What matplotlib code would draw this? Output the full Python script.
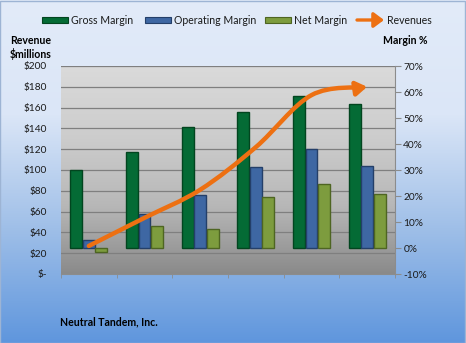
import numpy as np
import matplotlib
matplotlib.use("Agg")
import matplotlib.pyplot as plt
from matplotlib.path import Path
from matplotlib.patches import FancyArrowPatch, Rectangle
from matplotlib.colors import LinearSegmentedColormap
import matplotlib.transforms as mtransforms

plt.rcParams['font.family'] = ['Lato', 'DejaVu Sans']

categories = ["FY 2005", "FY 2006", "FY 2007", "FY 2008", "FY 2009", "TTM 9/2010"]
gross_margin = [30.0, 37.0, 46.4, 52.4, 58.5, 55.3]
operating_margin = [3.0, 13.0, 20.4, 31.3, 38.0, 31.7]
net_margin = [-1.4, 8.5, 7.3, 19.7, 24.5, 20.7]
revenues = [27, 54, 81, 122, 172, 180]

rev_ticks = list(range(0, 201, 20))
rev_labels = ["$-"] + [f"${v}" for v in rev_ticks[1:]]
pct_ticks = list(range(-10, 71, 10))
pct_labels = [f"{v}%" for v in pct_ticks]

W, H = 466, 343
fig = plt.figure(figsize=(W / 100, H / 100), dpi=100)

# Figure background: light-to-blue vertical gradient with thin border
bg = fig.add_axes([0, 0, 1, 1], zorder=-10)
bg_cmap = LinearSegmentedColormap.from_list("bg", ["#e2ebf9", "#dbe6f7", "#9fbfe8", "#5f96dd"])
grad = np.linspace(0, 1, 256).reshape(-1, 1)
bg.imshow(grad, cmap=bg_cmap, aspect="auto", extent=[0, 1, 0, 1], origin="upper")
bg.set_xlim(0, 1); bg.set_ylim(0, 1); bg.axis("off")
bg.add_patch(Rectangle((0.001, 0.001), 0.997, 0.996, fill=False, ec="#9db4d4", lw=1.0,
                       transform=bg.transAxes))

left, right = 61 / W, 395 / W
bottom, top = 1 - 274 / H, 1 - 66 / H
ax = fig.add_axes([left, bottom, right - left, top - bottom])
ax2 = ax.twinx()

# Plot area gradient (light grey to darker grey)
pa_cmap = LinearSegmentedColormap.from_list("pa", ["#dadada", "#cdcdcd", "#b8b8b8", "#8a8a8a"])
ax.imshow(grad, cmap=pa_cmap, aspect="auto", extent=[0, 1, 0, 1], origin="upper",
          transform=ax.transAxes, zorder=0)

x = np.arange(len(categories))
bw = 0.225
ax.set_xlim(-0.5, len(categories) - 0.5)
ax.set_ylim(-10, 70)
ax2.set_ylim(0, 200)

# Horizontal gridlines at revenue ticks, drawn behind bars
trans = mtransforms.blended_transform_factory(ax.transAxes, ax2.transData)
for v in rev_ticks[1:]:
    ax.plot([0, 1], [v, v], transform=trans, color="#7f7f7f", lw=0.9, zorder=1)

colors = {
    "Gross Margin": ("#046b35", "#02451f"),
    "Operating Margin": ("#3e67a3", "#243f69"),
    "Net Margin": ("#7d9c3e", "#4e6522"),
}
series = [
    (gross_margin, "Gross Margin", -bw),
    (operating_margin, "Operating Margin", 0),
    (net_margin, "Net Margin", bw),
]
for vals, lab, off in series:
    fc, ec = colors[lab]
    ax.bar(x + off, vals, width=bw * 0.95, color=fc, edgecolor=ec, linewidth=1.0,
           zorder=3, label=lab)

# Smoothed revenue curve (Catmull-Rom converted to cubic Bezier)
pts = np.column_stack([x, revenues]).astype(float)
verts = [tuple(pts[0])]
codes = [Path.MOVETO]
n = len(pts)
for i in range(n - 1):
    p0 = pts[i - 1] if i > 0 else pts[i]
    p1 = pts[i]
    p2 = pts[i + 1]
    p3 = pts[i + 2] if i + 2 < n else pts[i + 1]
    c1 = p1 + (p2 - p0) / 6.0
    c2 = p2 - (p3 - p1) / 6.0
    verts += [tuple(c1), tuple(c2), tuple(p2)]
    codes += [Path.CURVE4] * 3
rev_path = Path(verts, codes)
arrow = FancyArrowPatch(path=rev_path, arrowstyle="-|>,head_length=4,head_width=2.6",
                        color="#ed7012", lw=3.2, transform=ax2.transData, zorder=5,
                        shrinkA=0, shrinkB=0, mutation_scale=1.6)
ax2.add_patch(arrow)

# Axes styling
for a in (ax, ax2):
    for s in a.spines.values():
        s.set_visible(False)
ax2.spines["right"].set_visible(True)
ax2.spines["right"].set_color("#8c8c8c")
ax2.spines["bottom"].set_visible(True)
ax2.spines["bottom"].set_color("#8c8c8c")

ax.yaxis.tick_right()
ax.set_yticks(pct_ticks)
ax.set_yticklabels(pct_labels, fontsize=7.3, color="#1a1a1a")
ax.tick_params(axis="y", which="both", length=4, color="#8c8c8c", pad=2, direction="out")

ax2.yaxis.tick_left()
ax2.set_yticks(rev_ticks)
ax2.set_yticklabels(rev_labels, fontsize=7.3, color="#1a1a1a")
ax2.tick_params(axis="y", length=0, pad=10)

ax.set_xticks(x)
ax.set_xticklabels(categories, fontsize=7.3, color="#1a1a1a")
ax.tick_params(axis="x", length=0, pad=8)
ax.set_xticks(np.arange(-0.5, len(categories), 1.0), minor=True)
ax.tick_params(axis="x", which="minor", length=3, color="#8c8c8c")
ax2.set_xticks([])

# Legend row
ly = 1 - 20 / H
for lab, x0 in [("Gross Margin", 42), ("Operating Margin", 145), ("Net Margin", 265)]:
    fc, ec = colors[lab]
    fig.add_artist(Rectangle((x0 / W, ly - 2.5 / H), 26 / W, 5 / H, fc=fc, ec=ec, lw=0.8,
                             transform=fig.transFigure))
    fig.text((x0 + 29) / W, ly, lab, fontsize=7.6, va="center", ha="left", color="#1a1a1a")
fig.add_artist(FancyArrowPatch((357 / W, ly), (384 / W, ly),
                               transform=fig.transFigure, arrowstyle="-|>,head_length=4,head_width=3",
                               color="#ed7012", lw=2.4, mutation_scale=1.5, shrinkA=0, shrinkB=0))
fig.text(387 / W, ly, "Revenues", fontsize=7.6, va="center", ha="left", color="#1a1a1a")

fig.text(10 / W, 1 - 41 / H, "Revenue", fontsize=7.6, fontweight="bold", va="center", ha="left")
fig.text(10 / W, 1 - 54 / H, "$millions", fontsize=7.6, fontweight="bold", va="center", ha="left")
fig.text(383 / W, 1 - 41 / H, "Margin %", fontsize=7.6, fontweight="bold", va="center", ha="left")
fig.text(60 / W, 1 - 322 / H, "Neutral Tandem, Inc.", fontsize=7.6, fontweight="bold",
         va="center", ha="left")

fig.savefig("out.png", dpi=100)
